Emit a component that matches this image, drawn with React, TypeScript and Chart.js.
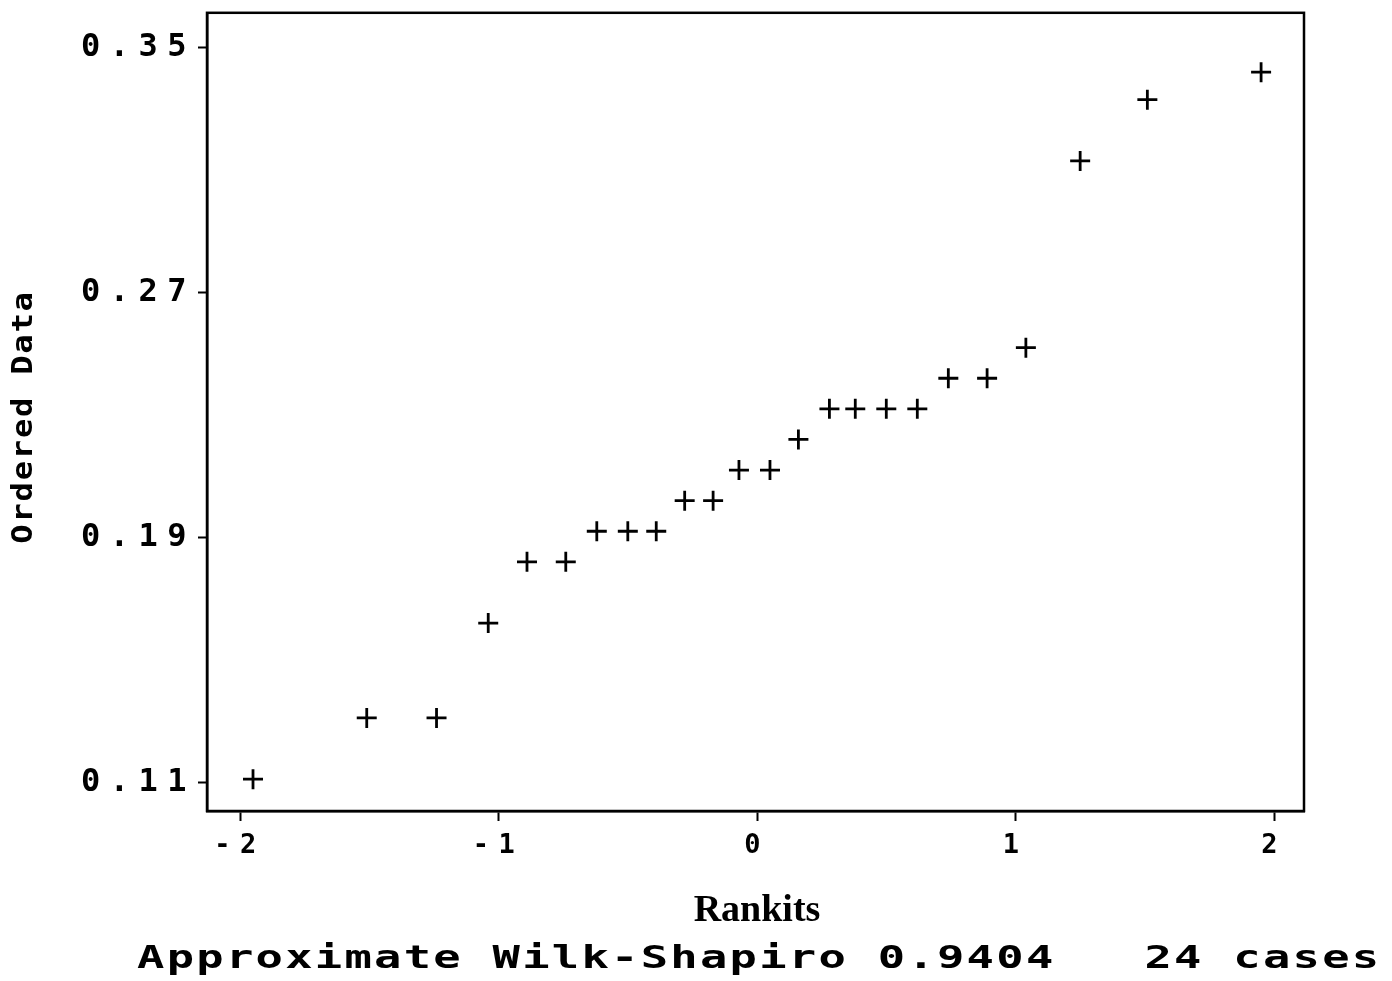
import React, { useEffect, useRef } from "react";
import { Chart, registerables } from "chart.js";

Chart.register(...registerables);

// Rankits (x)
const RANKITS = [-1.95, -1.51, -1.24, -1.04, -0.89, -0.74, -0.62, -0.5, -0.39, -0.28, -0.17, -0.07, 0.05, 0.16, 0.28, 0.38, 0.5, 0.62, 0.74, 0.89, 1.04, 1.25, 1.51, 1.95];
// Ordered data (y)
const ORDERED = [0.111, 0.131, 0.131, 0.162, 0.182, 0.182, 0.192, 0.192, 0.192, 0.202, 0.202, 0.212, 0.212, 0.222, 0.232, 0.232, 0.232, 0.232, 0.242, 0.242, 0.252, 0.313, 0.333, 0.342];

const X_TICKS = [-2, -1, 0, 1, 2];
const Y_TICKS = [0.11, 0.19, 0.27, 0.35];

const X_TITLE = "Rankits";
const Y_TITLE = "Ordered Data";
const FOOTER = "Approximate Wilk-Shapiro 0.9404   24 cases";

const W = 1392;
const H = 981;
const MONO = '"DejaVu Sans Mono", "Liberation Mono", monospace';

const framePlugin = {
  id: "frame",
  beforeDraw(chart: any) {
    const ctx = chart.ctx;
    ctx.save();
    ctx.fillStyle = "#fff";
    ctx.fillRect(0, 0, chart.width, chart.height);
    ctx.restore();
    ctx.letterSpacing = "9.5px";
  },
  beforeDatasetsDraw(chart: any) {
    chart.ctx.letterSpacing = "0px";
  },
  afterDraw(chart: any) {
    const ctx = chart.ctx;
    const a = chart.chartArea;
    ctx.save();
    ctx.letterSpacing = "0px";
    ctx.strokeStyle = "#000";
    ctx.lineWidth = 2.5;
    ctx.strokeRect(a.left, a.top, a.right - a.left, a.bottom - a.top);

    ctx.fillStyle = "#000";
    // x title
    ctx.font = 'bold 38px "Liberation Serif", "DejaVu Serif", serif';
    ctx.textAlign = "center";
    ctx.textBaseline = "middle";
    ctx.fillText(X_TITLE, 757, 911);

    // y title
    ctx.save();
    ctx.translate(25, 417);
    ctx.rotate(-Math.PI / 2);
    ctx.scale(1.15, 1);
    ctx.font = "bold 28px " + MONO;
    ctx.letterSpacing = "1.5px";
    ctx.textAlign = "center";
    ctx.textBaseline = "middle";
    ctx.fillText(Y_TITLE, 0, 0);
    ctx.restore();

    // footer
    ctx.save();
    ctx.translate(137, 960);
    ctx.scale(1.42, 1);
    ctx.font = "bold 32px " + MONO;
    ctx.letterSpacing = "1.6px";
    ctx.textAlign = "left";
    ctx.textBaseline = "middle";
    ctx.fillText(FOOTER, 0, 0);
    ctx.restore();
    ctx.restore();
  },
};

export default function App() {
  const ref = useRef<HTMLCanvasElement | null>(null);

  useEffect(() => {
    if (!ref.current) return;
    const chart = new Chart(ref.current, {
      type: "scatter",
      data: {
        datasets: [
          {
            data: RANKITS.map((x, i) => ({ x, y: ORDERED[i] })),
            pointStyle: "cross",
            pointRadius: 10,
            pointBorderWidth: 2.8,
            borderColor: "#000",
            backgroundColor: "#000",
            showLine: false,
          },
        ],
      },
      options: {
        responsive: false,
        animation: false,
        events: [],
        layout: { padding: { top: 8, right: 88, left: 0, bottom: 0 } },
        plugins: {
          legend: { display: false },
          tooltip: { enabled: false },
          title: { display: false },
        },
        scales: {
          x: {
            type: "linear",
            position: "bottom",
            min: -2.128,
            max: 2.116,
            afterBuildTicks: (s: any) => {
              s.ticks = X_TICKS.map((v) => ({ value: v }));
            },
            afterFit: (s: any) => {
              s.height = 170;
              s.paddingLeft = 0;
              s.paddingRight = 0;
            },
            ticks: {
              autoSkip: false,
              maxRotation: 0,
              minRotation: 0,
              padding: 9,
              color: "#000",
              font: { family: MONO, size: 27, weight: "bold" },
              callback: (v: any) => String(v),
            },
            grid: {
              display: true,
              drawOnChartArea: false,
              drawTicks: true,
              tickLength: 10,
              tickWidth: 2,
              tickColor: "#000",
            },
            border: { display: true, color: "#000", width: 2.5 },
          },
          y: {
            type: "linear",
            position: "left",
            min: 0.1006,
            max: 0.3614,
            afterBuildTicks: (s: any) => {
              s.ticks = Y_TICKS.map((v) => ({ value: v }));
            },
            afterFit: (s: any) => {
              s.width = 207;
              s.paddingTop = 0;
              s.paddingBottom = 0;
            },
            ticks: {
              autoSkip: false,
              padding: 2,
              color: "#000",
              font: { family: MONO, size: 32, weight: "bold" },
              callback: (v: any) => Number(v).toFixed(2),
            },
            grid: {
              display: true,
              drawOnChartArea: false,
              drawTicks: true,
              tickLength: 9,
              tickWidth: 2,
              tickColor: "#000",
            },
            border: { display: true, color: "#000", width: 2.5 },
          },
        },
      },
      plugins: [framePlugin],
    } as any);
    return () => chart.destroy();
  }, []);

  return (
    <div style={{ position: "absolute", left: 0, top: 0, width: W, height: H, background: "#fff" }}>
      <canvas ref={ref} width={W} height={H} style={{ display: "block", width: W, height: H }} />
    </div>
  );
}
